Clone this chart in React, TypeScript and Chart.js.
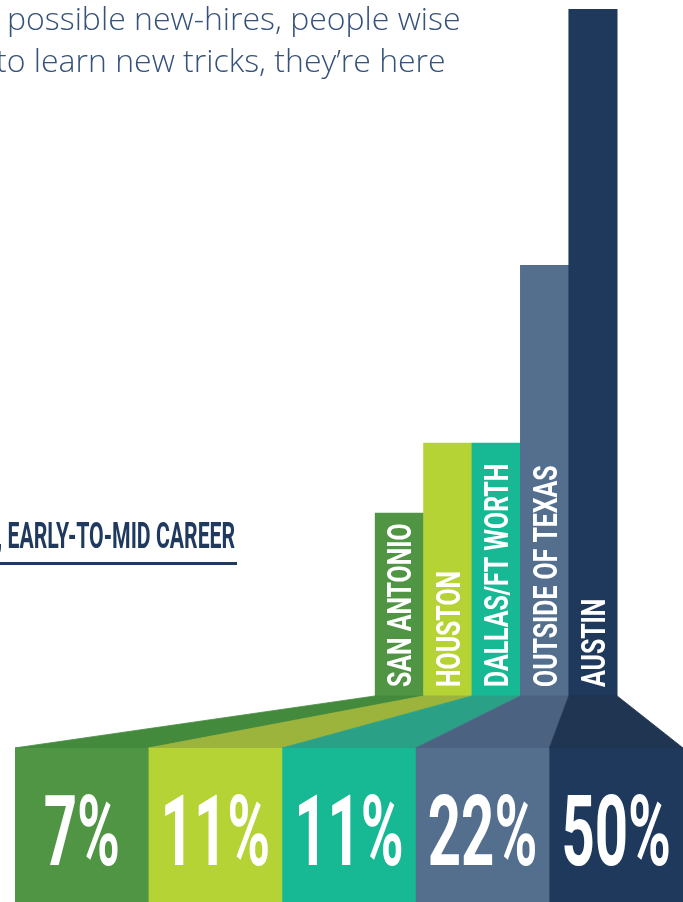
import { useEffect, useRef } from "react";
import { Chart, registerables } from "chart.js";

Chart.register(...registerables);

// ---- data ----
const locations = ["SAN ANTONIO", "HOUSTON", "DALLAS/FT WORTH", "OUTSIDE OF TEXAS", "AUSTIN"];
const sharePercent = [7, 11, 11, 22, 50];
// visual tower heights as drawn in the infographic (Austin = 100)
const towerHeights = [26.6, 36.8, 36.8, 62.7, 100];
const introLines = ["possible new-hires, people wise", "to learn new tricks, they\u2019re here"];
const headingText = ", EARLY-TO-MID CAREER";

// ---- styles ----
const towerColors = ["#4f9543", "#b5d334", "#17b894", "#546e8e", "#1e395b"];
const funnelColors = ["#438a3d", "#9cb43b", "#2aa086", "#4b6380", "#1f3551"];
const FUNNEL_DEPTH = 52;

const funnelPlugin = {
  id: "funnelBoxes",
  afterDatasetsDraw(chart: any) {
    const ctx = chart.ctx as CanvasRenderingContext2D;
    const meta = chart.getDatasetMeta(0);
    const xBox = chart.scales.xBox;
    const y = chart.scales.y;
    const base = y.getPixelForValue(0);
    const boxTop = base + FUNNEL_DEPTH;
    const bottom = chart.chartArea.bottom;
    const boxW = (xBox.right - xBox.left) / locations.length;
    ctx.save();
    meta.data.forEach((bar: any, i: number) => {
      const { x, width } = bar.getProps(["x", "width"], true);
      const tl = x - width / 2;
      const tr = x + width / 2;
      const cx = xBox.getPixelForValue(i);
      const bl = cx - boxW / 2;
      const br = cx + boxW / 2;
      // funnel quad
      ctx.fillStyle = funnelColors[i];
      ctx.strokeStyle = funnelColors[i];
      ctx.lineWidth = 0.8;
      ctx.beginPath();
      ctx.moveTo(tl, base);
      ctx.lineTo(tr, base);
      ctx.lineTo(br, boxTop);
      ctx.lineTo(bl, boxTop);
      ctx.closePath();
      ctx.fill();
      ctx.stroke();
      // bottom box
      ctx.fillStyle = towerColors[i];
      ctx.fillRect(bl, boxTop, boxW + 0.6, bottom - boxTop);
    });
    meta.data.forEach((bar: any, i: number) => {
      const { x } = bar.getProps(["x"], true);
      const cx = xBox.getPixelForValue(i);
      // percentage
      ctx.save();
      ctx.fillStyle = "#ffffff";
      ctx.translate(cx, boxTop + 117);
      ctx.scale(0.593, 1);
      ctx.font = "bold 98px Roboto";
      ctx.textAlign = "center";
      ctx.textBaseline = "alphabetic";
      ctx.fillText(`${sharePercent[i]}%`, 0, 0);
      ctx.restore();
      // tower label (rotated)
      const capH = 0.711 * 34;
      ctx.save();
      ctx.fillStyle = "#ffffff";
      ctx.translate(x + capH / 2, base - 9);
      ctx.rotate(-Math.PI / 2);
      ctx.scale(0.73, 1);
      ctx.font = "bold 34px Roboto";
      ctx.textAlign = "left";
      ctx.textBaseline = "alphabetic";
      ctx.fillText(locations[i], 0, 0);
      ctx.restore();
    });
    ctx.restore();
  },
};

export default function App() {
  const ref = useRef<HTMLCanvasElement>(null);
  useEffect(() => {
    if (!ref.current) return;
    const chart = new Chart(ref.current, {
      type: "bar",
      data: {
        datasets: [
          {
            data: towerHeights.map((h, i) => ({ x: i, y: h })) as any,
            backgroundColor: towerColors,
            borderWidth: 0,
            barPercentage: 1,
            categoryPercentage: 1,
            xAxisID: "xTower",
            yAxisID: "y",
          },
        ],
      },
      options: {
        animation: false,
        responsive: false,
        devicePixelRatio: 1,
        layout: { padding: { top: 9, left: 15, right: 0, bottom: 0 } },
        plugins: {
          legend: { display: false },
          tooltip: { enabled: false },
        },
        scales: {
          xTower: { type: "linear", min: -7.94, max: 5.86, offset: false, display: false },
          xBox: { type: "category", labels: locations, offset: true, display: false },
          y: { type: "linear", min: -30, max: 100, display: false },
        },
      },
      plugins: [funnelPlugin],
    });
    return () => chart.destroy();
  }, []);

  const introStyle = {
    position: "absolute" as const,
    font: '300 32px "Open Sans"',
    lineHeight: "42px",
    color: "#36527a",
    whiteSpace: "nowrap" as const,
  };

  return (
    <div
      style={{
        position: "absolute",
        left: 0,
        top: 0,
        width: 683,
        height: 902,
        overflow: "hidden",
        background: "#ffffff",
      }}
    >
      <canvas
        ref={ref}
        width={683}
        height={902}
        style={{ position: "absolute", left: 0, top: 0, display: "block" }}
      />
      <div style={{ ...introStyle, left: 7, top: -3 }}>{introLines[0]}</div>
      <div style={{ ...introStyle, left: -4, top: 38.5 }}>{introLines[1]}</div>
      <div
        style={{
          position: "absolute",
          left: -3,
          top: 518,
          font: "bold 36.6px Roboto",
          lineHeight: "36.6px",
          color: "#1f3a5e",
          whiteSpace: "nowrap",
          transform: "scaleX(0.58)",
          transformOrigin: "0 0",
        }}
      >
        {headingText}
      </div>
      <div
        style={{
          position: "absolute",
          left: 0,
          top: 562,
          width: 237,
          height: 3,
          background: "#1f3a5e",
        }}
      />
    </div>
  );
}
